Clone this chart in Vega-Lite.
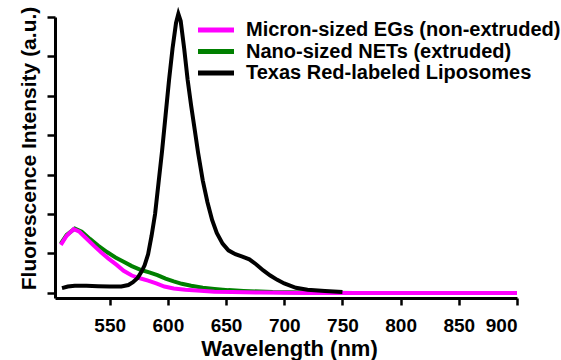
{
  "$schema": "https://vega.github.io/schema/vega-lite/v6.json",
  "width": 462,
  "height": 281,
  "autosize": {"type": "none"},
  "padding": {"left": 55, "top": 17, "right": 44, "bottom": 62},
  "background": "white",
  "config": {"view": {"stroke": null}, "font": "Liberation Sans"},
  "data": {"values": [
    {"s": "Micron-sized EGs (non-extruded)", "x": 508, "y": 1.22},
    {"s": "Micron-sized EGs (non-extruded)", "x": 513, "y": 1.45},
    {"s": "Micron-sized EGs (non-extruded)", "x": 519, "y": 1.62},
    {"s": "Micron-sized EGs (non-extruded)", "x": 524, "y": 1.55},
    {"s": "Micron-sized EGs (non-extruded)", "x": 530, "y": 1.38},
    {"s": "Micron-sized EGs (non-extruded)", "x": 537, "y": 1.18},
    {"s": "Micron-sized EGs (non-extruded)", "x": 543, "y": 1.02},
    {"s": "Micron-sized EGs (non-extruded)", "x": 549, "y": 0.87},
    {"s": "Micron-sized EGs (non-extruded)", "x": 556, "y": 0.71},
    {"s": "Micron-sized EGs (non-extruded)", "x": 562, "y": 0.56},
    {"s": "Micron-sized EGs (non-extruded)", "x": 569, "y": 0.44},
    {"s": "Micron-sized EGs (non-extruded)", "x": 576, "y": 0.37},
    {"s": "Micron-sized EGs (non-extruded)", "x": 583, "y": 0.31},
    {"s": "Micron-sized EGs (non-extruded)", "x": 590, "y": 0.24},
    {"s": "Micron-sized EGs (non-extruded)", "x": 597, "y": 0.16},
    {"s": "Micron-sized EGs (non-extruded)", "x": 605, "y": 0.11},
    {"s": "Micron-sized EGs (non-extruded)", "x": 615, "y": 0.08},
    {"s": "Micron-sized EGs (non-extruded)", "x": 625, "y": 0.06},
    {"s": "Micron-sized EGs (non-extruded)", "x": 640, "y": 0.03},
    {"s": "Micron-sized EGs (non-extruded)", "x": 655, "y": 0.02},
    {"s": "Micron-sized EGs (non-extruded)", "x": 680, "y": 0.01},
    {"s": "Micron-sized EGs (non-extruded)", "x": 720, "y": 0},
    {"s": "Micron-sized EGs (non-extruded)", "x": 800, "y": 0},
    {"s": "Micron-sized EGs (non-extruded)", "x": 900, "y": 0},
    {"s": "Nano-sized NETs (extruded)", "x": 508, "y": 1.25},
    {"s": "Nano-sized NETs (extruded)", "x": 513, "y": 1.47},
    {"s": "Nano-sized NETs (extruded)", "x": 520, "y": 1.63},
    {"s": "Nano-sized NETs (extruded)", "x": 526, "y": 1.55},
    {"s": "Nano-sized NETs (extruded)", "x": 533, "y": 1.37},
    {"s": "Nano-sized NETs (extruded)", "x": 540, "y": 1.2},
    {"s": "Nano-sized NETs (extruded)", "x": 548, "y": 1.03},
    {"s": "Nano-sized NETs (extruded)", "x": 555, "y": 0.9},
    {"s": "Nano-sized NETs (extruded)", "x": 562, "y": 0.79},
    {"s": "Nano-sized NETs (extruded)", "x": 569, "y": 0.68},
    {"s": "Nano-sized NETs (extruded)", "x": 577, "y": 0.58},
    {"s": "Nano-sized NETs (extruded)", "x": 584, "y": 0.52},
    {"s": "Nano-sized NETs (extruded)", "x": 591, "y": 0.45},
    {"s": "Nano-sized NETs (extruded)", "x": 598, "y": 0.36},
    {"s": "Nano-sized NETs (extruded)", "x": 605, "y": 0.29},
    {"s": "Nano-sized NETs (extruded)", "x": 612, "y": 0.23},
    {"s": "Nano-sized NETs (extruded)", "x": 620, "y": 0.18},
    {"s": "Nano-sized NETs (extruded)", "x": 630, "y": 0.13},
    {"s": "Nano-sized NETs (extruded)", "x": 640, "y": 0.1},
    {"s": "Nano-sized NETs (extruded)", "x": 652, "y": 0.07},
    {"s": "Nano-sized NETs (extruded)", "x": 665, "y": 0.05},
    {"s": "Nano-sized NETs (extruded)", "x": 690, "y": 0.02},
    {"s": "Nano-sized NETs (extruded)", "x": 720, "y": 0.01},
    {"s": "Nano-sized NETs (extruded)", "x": 760, "y": 0},
    {"s": "Nano-sized NETs (extruded)", "x": 900, "y": 0},
    {"s": "Texas Red-labeled Liposomes", "x": 509, "y": 0.12},
    {"s": "Texas Red-labeled Liposomes", "x": 514, "y": 0.16},
    {"s": "Texas Red-labeled Liposomes", "x": 520, "y": 0.18},
    {"s": "Texas Red-labeled Liposomes", "x": 530, "y": 0.18},
    {"s": "Texas Red-labeled Liposomes", "x": 540, "y": 0.17},
    {"s": "Texas Red-labeled Liposomes", "x": 550, "y": 0.16},
    {"s": "Texas Red-labeled Liposomes", "x": 560, "y": 0.16},
    {"s": "Texas Red-labeled Liposomes", "x": 566, "y": 0.2},
    {"s": "Texas Red-labeled Liposomes", "x": 570, "y": 0.27},
    {"s": "Texas Red-labeled Liposomes", "x": 574, "y": 0.38},
    {"s": "Texas Red-labeled Liposomes", "x": 577, "y": 0.52},
    {"s": "Texas Red-labeled Liposomes", "x": 580, "y": 0.7},
    {"s": "Texas Red-labeled Liposomes", "x": 583, "y": 0.98},
    {"s": "Texas Red-labeled Liposomes", "x": 586, "y": 1.45},
    {"s": "Texas Red-labeled Liposomes", "x": 589, "y": 2.0},
    {"s": "Texas Red-labeled Liposomes", "x": 592, "y": 2.8},
    {"s": "Texas Red-labeled Liposomes", "x": 595, "y": 3.6},
    {"s": "Texas Red-labeled Liposomes", "x": 598, "y": 4.5},
    {"s": "Texas Red-labeled Liposomes", "x": 601, "y": 5.4},
    {"s": "Texas Red-labeled Liposomes", "x": 604, "y": 6.2},
    {"s": "Texas Red-labeled Liposomes", "x": 607, "y": 6.85},
    {"s": "Texas Red-labeled Liposomes", "x": 609, "y": 7.08},
    {"s": "Texas Red-labeled Liposomes", "x": 611, "y": 6.9},
    {"s": "Texas Red-labeled Liposomes", "x": 614, "y": 6.2},
    {"s": "Texas Red-labeled Liposomes", "x": 617, "y": 5.4},
    {"s": "Texas Red-labeled Liposomes", "x": 620, "y": 4.75},
    {"s": "Texas Red-labeled Liposomes", "x": 623, "y": 4.15},
    {"s": "Texas Red-labeled Liposomes", "x": 626, "y": 3.55},
    {"s": "Texas Red-labeled Liposomes", "x": 630, "y": 2.85},
    {"s": "Texas Red-labeled Liposomes", "x": 634, "y": 2.3},
    {"s": "Texas Red-labeled Liposomes", "x": 638, "y": 1.85},
    {"s": "Texas Red-labeled Liposomes", "x": 642, "y": 1.52},
    {"s": "Texas Red-labeled Liposomes", "x": 647, "y": 1.25},
    {"s": "Texas Red-labeled Liposomes", "x": 652, "y": 1.08},
    {"s": "Texas Red-labeled Liposomes", "x": 658, "y": 0.98},
    {"s": "Texas Red-labeled Liposomes", "x": 664, "y": 0.92},
    {"s": "Texas Red-labeled Liposomes", "x": 670, "y": 0.85},
    {"s": "Texas Red-labeled Liposomes", "x": 676, "y": 0.72},
    {"s": "Texas Red-labeled Liposomes", "x": 682, "y": 0.57},
    {"s": "Texas Red-labeled Liposomes", "x": 688, "y": 0.44},
    {"s": "Texas Red-labeled Liposomes", "x": 694, "y": 0.33},
    {"s": "Texas Red-labeled Liposomes", "x": 700, "y": 0.24},
    {"s": "Texas Red-labeled Liposomes", "x": 710, "y": 0.13},
    {"s": "Texas Red-labeled Liposomes", "x": 720, "y": 0.08},
    {"s": "Texas Red-labeled Liposomes", "x": 735, "y": 0.05},
    {"s": "Texas Red-labeled Liposomes", "x": 750, "y": 0.02}
  ]},
  "encoding": {
    "x": {
      "field": "x", "type": "quantitative",
      "scale": {"domain": [503, 900], "nice": false, "zero": false},
      "axis": {
        "values": [550, 600, 650, 700, 750, 800, 850, 900],
        "grid": false, "tickSize": 7, "tickWidth": 2.5, "tickColor": "black",
        "domainWidth": 3, "domainColor": "black",
        "labelFont": "Liberation Sans", "labelFontWeight": "bold", "labelFontSize": 19, "labelColor": "black",
        "labelBaseline": "alphabetic", "labelPadding": 26,
        "title": "Wavelength (nm)", "titleFont": "Liberation Sans", "titleFontWeight": "bold", "titleFontSize": 22, "titleColor": "black",
        "titleBaseline": "alphabetic", "titleY": 57.5, "titleX": 234
      }
    },
    "y": {
      "field": "y", "type": "quantitative",
      "scale": {"domain": [-0.13, 7], "nice": false, "zero": false},
      "axis": {
        "values": [0, 1, 2, 3, 4, 5, 6, 7],
        "labels": false, "grid": false, "tickSize": 8, "tickWidth": 2.5, "tickColor": "black",
        "domainWidth": 3, "domainColor": "black",
        "title": "Fluorescence Intensity (a.u.)", "titleFont": "Liberation Sans", "titleFontWeight": "bold", "titleFontSize": 21, "titleColor": "black", "titleLimit": 500,
        "titleBaseline": "alphabetic", "titleX": -20, "titleY": 131, "titleAngle": -90
      }
    },
    "color": {
      "field": "s", "type": "nominal",
      "scale": {
        "domain": ["Micron-sized EGs (non-extruded)", "Nano-sized NETs (extruded)", "Texas Red-labeled Liposomes"],
        "range": ["#ff00ff", "#008000", "#000000"]
      },
      "legend": {
        "orient": "none", "legendX": 151, "legendY": 3, "title": null,
        "symbolType": "M-3,0H3", "symbolSize": 144, "symbolStrokeWidth": 5, "symbolFillColor": null,
        "labelFont": "Liberation Sans", "labelFontWeight": "bold", "labelFontSize": 20, "labelColor": "black", "labelLimit": 500,
        "labelOffset": 20, "rowPadding": 1.5, "padding": 0
      }
    }
  },
  "layer": [
    {"transform": [{"filter": "datum.s === 'Nano-sized NETs (extruded)'"}], "mark": {"type": "line", "strokeWidth": 4}},
    {"transform": [{"filter": "datum.s === 'Micron-sized EGs (non-extruded)'"}], "mark": {"type": "line", "strokeWidth": 4}},
    {"transform": [{"filter": "datum.s === 'Texas Red-labeled Liposomes'"}], "mark": {"type": "line", "strokeWidth": 4}}
  ]
}
